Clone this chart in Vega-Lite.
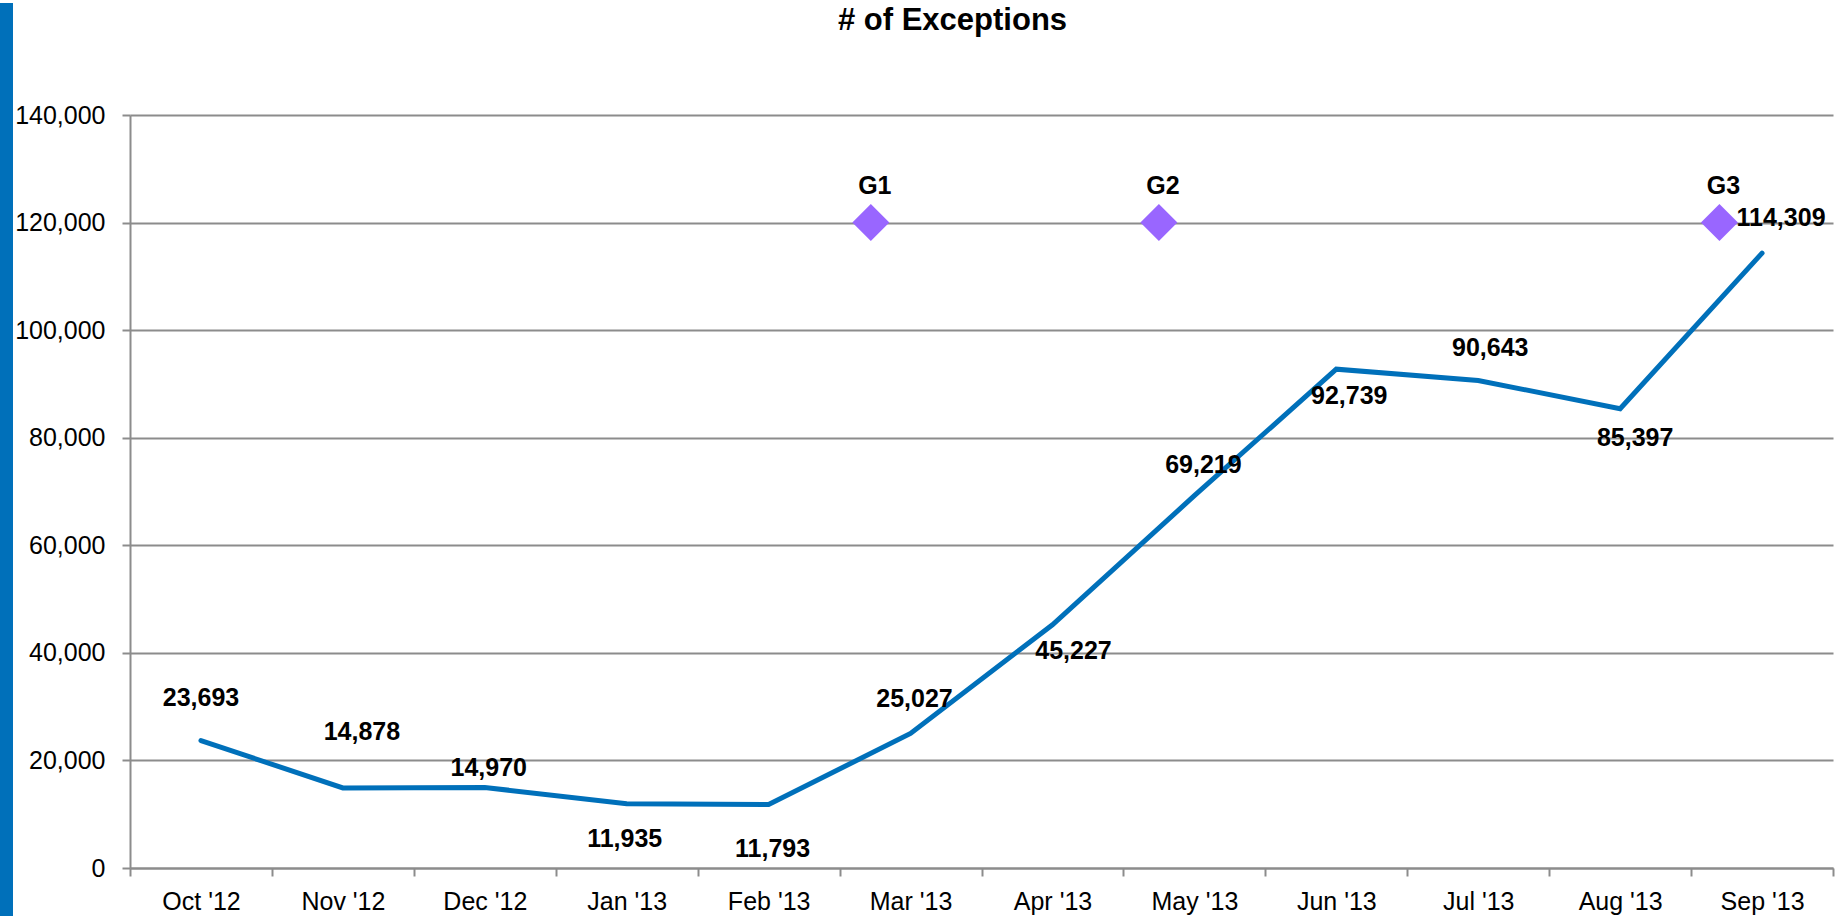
{
  "$schema": "https://vega.github.io/schema/vega-lite/v6.json",
  "background": "white",
  "padding": {"left": 0, "top": 3, "right": 10, "bottom": 0},
  "spacing": 1,
  "config": {"font": "Liberation Sans", "view": {"stroke": null}},
  "datasets": {
    "exceptions": [
      {"i": 0, "month": "Oct '12", "value": 23693},
      {"i": 1, "month": "Nov '12", "value": 14878},
      {"i": 2, "month": "Dec '12", "value": 14970},
      {"i": 3, "month": "Jan '13", "value": 11935},
      {"i": 4, "month": "Feb '13", "value": 11793},
      {"i": 5, "month": "Mar '13", "value": 25027},
      {"i": 6, "month": "Apr '13", "value": 45227},
      {"i": 7, "month": "May '13", "value": 69219},
      {"i": 8, "month": "Jun '13", "value": 92739},
      {"i": 9, "month": "Jul '13", "value": 90643},
      {"i": 10, "month": "Aug '13", "value": 85397},
      {"i": 11, "month": "Sep '13", "value": 114309}
    ],
    "gates": [
      {"gate": "G1", "pos": 4.72, "level": 120000},
      {"gate": "G2", "pos": 6.75, "level": 120000},
      {"gate": "G3", "pos": 10.7, "level": 120000}
    ],
    "heading": [
      {"title": "# of Exceptions"}
    ]
  },
  "hconcat": [
    {
      "width": 13,
      "height": 913,
      "data": {"values": [{}]},
      "mark": {"type": "text", "text": ""},
      "view": {"fill": "#0070BA", "stroke": null}
    },
    {
      "spacing": 64,
      "vconcat": [
        {
          "width": 1703,
          "height": 36,
          "data": {"name": "heading"},
          "mark": {
            "type": "text",
            "font": "Liberation Sans",
            "fontSize": 31,
            "fontWeight": "bold",
            "color": "black",
            "align": "center",
            "baseline": "middle",
            "dx": -29
          },
          "encoding": {
            "text": {"field": "title", "type": "nominal"}
          }
        },
        {
          "width": 1703,
          "height": 753,
          "layer": [
            {
              "data": {"name": "exceptions"},
              "mark": {"type": "line", "color": "#0070BA", "strokeWidth": 5, "strokeCap": "round", "strokeJoin": "miter"},
              "encoding": {
                "x": {
                  "field": "i",
                  "type": "quantitative",
                  "title": null,
                  "scale": {"domain": [-0.5, 11.5], "nice": false, "zero": false},
                  "axis": {
                    "title": null,
                    "values": [-0.5, 0.5, 1.5, 2.5, 3.5, 4.5, 5.5, 6.5, 7.5, 8.5, 9.5, 10.5, 11.5],
                    "labelExpr": "datum.value > 11 ? '' : [\"Oct '12\",\"Nov '12\",\"Dec '12\",\"Jan '13\",\"Feb '13\",\"Mar '13\",\"Apr '13\",\"May '13\",\"Jun '13\",\"Jul '13\",\"Aug '13\",\"Sep '13\"][floor(datum.value + 0.5)]",
                    "labelOffset": 71,
                    "labelFlush": false,
                    "labelOverlap": false,
                    "grid": false,
                    "tickSize": 8,
                    "tickColor": "#8c8c8c",
                    "tickWidth": 2,
                    "domainColor": "#8c8c8c",
                    "domainWidth": 2,
                    "labelFont": "Liberation Sans",
                    "labelFontSize": 25,
                    "labelColor": "black",
                    "labelPadding": 13
                  }
                },
                "y": {
                  "field": "value",
                  "type": "quantitative",
                  "title": null,
                  "scale": {"domain": [0, 140000], "nice": false},
                  "axis": {
                    "title": null,
                    "values": [0, 20000, 40000, 60000, 80000, 100000, 120000, 140000],
                    "format": ",d",
                    "grid": true,
                    "gridColor": "#8c8c8c",
                    "gridWidth": 2,
                    "tickSize": 8,
                    "tickColor": "#8c8c8c",
                    "tickWidth": 2,
                    "domainColor": "#8c8c8c",
                    "domainWidth": 2,
                    "labelFont": "Liberation Sans",
                    "labelFontSize": 25,
                    "labelColor": "black",
                    "labelPadding": 17
                  }
                }
              }
            },
            {
              "data": {"name": "gates"},
              "mark": {"type": "point", "shape": "diamond", "filled": true, "size": 1369, "color": "#9966FF", "opacity": 1},
              "encoding": {
                "x": {"field": "pos", "type": "quantitative", "title": null},
                "y": {"field": "level", "type": "quantitative", "title": null}
              }
            },
            {
              "data": {"name": "gates"},
              "mark": {"type": "text", "font": "Liberation Sans", "fontSize": 25, "fontWeight": "bold", "color": "black", "align": "center", "baseline": "middle", "dx": 4, "dy": -37},
              "encoding": {
                "x": {"field": "pos", "type": "quantitative", "title": null},
                "y": {"field": "level", "type": "quantitative", "title": null},
                "text": {"field": "gate", "type": "nominal"}
              }
            },
            {
              "data": {"name": "exceptions"},
              "mark": {
                "type": "text",
                "font": "Liberation Sans",
                "fontSize": 25,
                "fontWeight": "bold",
                "color": "black",
                "align": "center",
                "baseline": "middle",
                "dx": {"expr": "[0,19,4,-2,4,4,21,9,13,12,15,19][datum.i]"},
                "dy": {"expr": "[-43,-56,-19,35,44,-34,26,-31,27,-32,29,-35][datum.i]"}
              },
              "encoding": {
                "x": {"field": "i", "type": "quantitative", "title": null},
                "y": {"field": "value", "type": "quantitative", "title": null},
                "text": {"field": "value", "type": "quantitative", "format": ",d"}
              }
            }
          ]
        }
      ]
    }
  ]
}
